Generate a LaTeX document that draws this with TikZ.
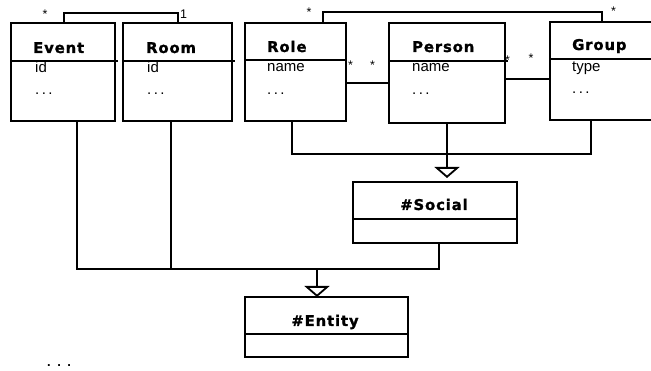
\documentclass[tikz,border=0pt]{standalone}
\usepackage{fontspec}
\setmainfont{Liberation Sans}
\newfontfamily\titlefont[LetterSpace=6, BoldFeatures={FakeBold=1.3}]{DejaVu Sans}
\usetikzlibrary{arrows.meta}
\tikzset{
  x=1pt, y=-1pt,
  ln/.style={line width=2pt, line cap=rect},
  cls/.style={draw, line width=2.2pt, anchor=north west, inner sep=0pt, outer sep=0pt},
  ctitle/.style={anchor=base west, inner sep=0pt, font=\titlefont\bfseries\fontsize{14.8}{18}\selectfont},
  ctitlec/.style={anchor=base, inner sep=0pt, font=\titlefont\bfseries\fontsize{14.8}{18}\selectfont},
  attr/.style={anchor=base west, inner sep=0pt, font=\fontsize{15}{18}\selectfont},
  mult/.style={anchor=base, inner sep=0pt, font=\fontsize{12.5}{14}\selectfont},
  gen/.style={ln, -{Triangle[open, width=25pt, length=11pt, line width=1.8pt]}},
}
\newcommand{\attrdots}{.\kern2.4pt.\kern2.4pt.}
\begin{document}
\begin{tikzpicture}
\useasboundingbox (0,0) rectangle (651,371);
\clip (0,0) rectangle (651,371);
% classes
\node[cls, minimum width=104pt, minimum height=98pt] (event) at (11,23) {};
\node[cls, minimum width=109pt, minimum height=98pt] (room) at (123,23) {};
\node[cls, minimum width=101pt, minimum height=98pt] (role) at (245,23) {};
\node[cls, minimum width=116pt, minimum height=100pt] (person) at (389,23) {};
\node[cls, minimum width=110pt, minimum height=98pt] (group) at (550,22) {};
\node[cls, minimum width=164pt, minimum height=61pt] (social) at (353,182) {};
\node[cls, minimum width=163pt, minimum height=60pt] (entity) at (245,297) {};
% dividers
\draw[ln] ([yshift=-38pt]event.north west) -- ([yshift=-38pt,xshift=2pt]event.north east);
\draw[ln] ([yshift=-38pt]room.north west) -- ([yshift=-38pt,xshift=2pt]room.north east);
\draw[ln] ([yshift=-37pt]role.north west) -- ([yshift=-37pt]role.north east);
\draw[ln] ([yshift=-38pt]person.north west) -- ([yshift=-38pt,xshift=2pt]person.north east);
\draw[ln] ([yshift=-37pt]group.north west) -- ([yshift=-37pt]group.north east);
\draw[ln] ([yshift=-37pt]social.north west) -- ([yshift=-37pt]social.north east);
\draw[ln] ([yshift=-37pt]entity.north west) -- ([yshift=-37pt]entity.north east);
% titles
\node[ctitle] (eventT) at (33,53) {Event};
\node[ctitle] (roomT) at (146,53) {Room};
\node[ctitle] (roleT) at (267,52) {Role};
\node[ctitle] (personT) at (412,52) {Person};
\node[ctitle] (groupT) at (572,50) {Group};
\node[ctitlec] (socialT) at (434,210) {\#Social};
\node[ctitlec] (entityT) at (325,326) {\#Entity};
% attributes
\node[attr] (eventA) at (35,73) {id};
\node[attr] (eventD) at (35,95) {\attrdots};
\node[attr] (roomA) at (147,73) {id};
\node[attr] (roomD) at (147,95) {\attrdots};
\node[attr] (roleA) at (267,72) {name};
\node[attr] (roleD) at (267,95) {\attrdots};
\node[attr] (personA) at (412,72) {name};
\node[attr] (personD) at (412,95) {\attrdots};
\node[attr] (groupA) at (572,72) {type};
\node[attr] (groupD) at (572,94) {\attrdots};
\node[attr, font=\bfseries\fontsize{13}{15}\selectfont] (moreD) at (47,367) {.\kern6.5pt.\kern6.5pt.};
% associations
\coordinate (evtop) at (64,13);
\coordinate (rgtop) at (323,12);
\coordinate (grx) at (602,0);
\draw[ln] (event.north -| evtop) -- (evtop) -- (evtop -| room.north) -- (room.north);
\draw[ln] (role.north -| rgtop) -- (rgtop) -- (rgtop -| grx) -- (group.north -| grx);
\coordinate (rpy) at (0,83);
\coordinate (pgy) at (0,79);
\draw[ln] (role.east |- rpy) -- (person.west |- rpy);
\draw[ln] (person.east |- pgy) -- (group.west |- pgy);
% multiplicities
\node[mult] (m1) at (45,19) {*};
\node[mult] (m2) at (183.5,19) {1};
\node[mult] (m3) at (309,17) {*};
\node[mult] (m4) at (613.5,16) {*};
\node[mult] (m5) at (350.5,70) {*};
\node[mult] (m6) at (372.5,70) {*};
\node[mult] (m7) at (507.5,65) {*};
\node[mult] (m8) at (531,63) {*};
% generalisation to Social
\coordinate (sbusL) at (292,154);
\coordinate (sbusR) at (591,154);
\draw[ln] (role.south -| sbusL) -- (sbusL) -- (sbusR) -- (group.south -| sbusR);
\draw[gen, shorten >=4pt] (person.south) -- (person.south |- social.north);
% generalisation to Entity
\coordinate (ebusL) at (77,269);
\coordinate (ebusR) at (439,269);
\coordinate (roomx) at (171,267);
\coordinate (entx) at (317,269);
\draw[ln] (event.south -| ebusL) -- (ebusL) -- (ebusR) -- (social.south -| ebusR);
\draw[ln] (room.south -| roomx) -- (roomx);
\draw[gen] (entx) -- (entx |- entity.north);
\end{tikzpicture}
\end{document}
